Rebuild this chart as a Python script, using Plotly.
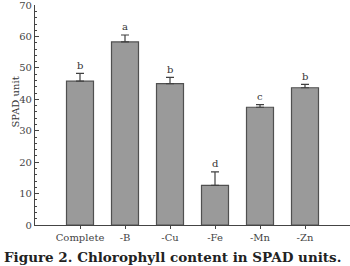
import plotly.graph_objects as go

categories = ["Complete", "-B", "-Cu", "-Fe", "-Mn", "-Zn"]
values = [45.8, 58.3, 45.0, 12.6, 37.5, 43.7]
errors = [2.5, 2.2, 2.0, 4.3, 0.8, 1.1]
letters = ["b", "a", "b", "d", "c", "b"]

x = list(range(len(categories)))
fig = go.Figure()
fig.add_trace(go.Bar(
    x=x, y=values, width=0.6,
    marker=dict(color="#9a9a9a", line=dict(color="#505050", width=1.2)),
    error_y=dict(type="data", array=errors, arrayminus=[0]*len(errors), symmetric=False,
                 color="#404040", thickness=1.2, width=4),
))
for xi, v, e, l in zip(x, values, errors, letters):
    fig.add_annotation(x=xi, y=v + e, text=l, showarrow=False, yshift=8,
                       font=dict(family="DejaVu Serif", size=10, color="#333"))

fig.add_annotation(xref="paper", yref="paper", x=-0.085, y=0.56, text="SPAD unit",
                   textangle=-90, showarrow=False,
                   font=dict(family="DejaVu Serif", size=10, color="#333"))
fig.add_annotation(xref="paper", yref="paper", x=-0.105, y=-0.1, xanchor="left", yanchor="top",
                   text="<b>Figure 2. Chlorophyll content in SPAD units.</b>",
                   showarrow=False,
                   font=dict(family="DejaVu Serif", size=13.5, color="#222"))

fig.update_layout(
    width=350, height=266,
    margin=dict(l=35, r=0, t=5, b=41),
    plot_bgcolor="white", paper_bgcolor="white",
    showlegend=False,
    font=dict(family="DejaVu Serif", size=10, color="#444"),
)
fig.update_xaxes(range=[-1, 6], tickvals=x, ticktext=categories, showline=True,
                 linecolor="#444", linewidth=1.2, ticks="outside", ticklen=3,
                 tickcolor="#444", showgrid=False, zeroline=False)
fig.update_yaxes(range=[0, 70.05], tickvals=[0, 10, 20, 30, 40, 50, 60, 70],
                 showline=True, linecolor="#444", linewidth=1.2,
                 ticks="inside", ticklen=4, tickcolor="#444", showgrid=False, zeroline=False,
                 ticklabeloverflow="allow",
                 minor=dict(dtick=2, ticks="inside", ticklen=2, tickcolor="#444"))
fig.write_html("out.html")
